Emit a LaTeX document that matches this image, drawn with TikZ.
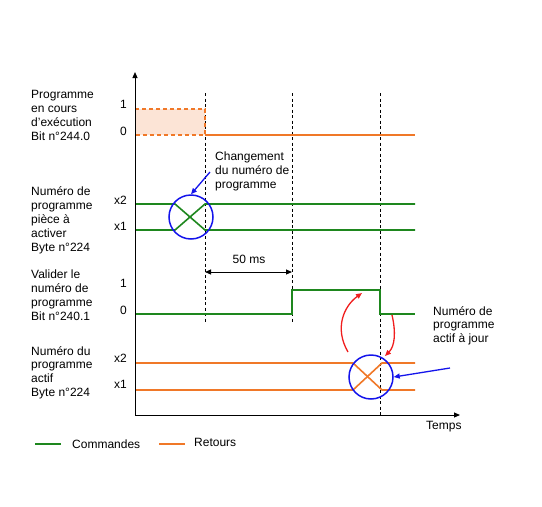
\documentclass[tikz,border=0pt]{standalone}
\usepackage{fontspec}
\setmainfont{Liberation Sans}
\usetikzlibrary{arrows.meta}
\definecolor{sig}{RGB}{30,135,30}
\definecolor{ret}{RGB}{240,120,40}
\definecolor{peach}{RGB}{252,228,214}
\definecolor{blu}{RGB}{20,20,235}
\definecolor{rd}{RGB}{240,30,30}
\begin{document}
\begin{tikzpicture}[x=1pt,y=-1pt,
  txt/.style={font=\fontsize{12}{13.9}\selectfont,align=left,inner sep=0pt,anchor=north west},
  lvl/.style={font=\fontsize{12}{13.9}\selectfont,inner sep=0pt,anchor=base east},
  cmd/.style={draw=sig,line width=1.6pt},
  rtn/.style={draw=ret,line width=1.6pt},
  guide/.style={draw=black,dashed,dash pattern=on 3pt off 2.5pt,line width=0.8pt},
  tip/.style={-{Triangle[length=6pt,width=5pt]}},
  ring/.style={circle,draw=blu,line width=1.5pt,minimum size=44pt,inner sep=0pt},
  note/.style={draw=blu,line width=1.3pt,-{Triangle[length=6pt,width=5pt]}},
  redarr/.style={draw=rd,line width=1.3pt,-{Triangle[length=6pt,width=5pt]}}]
\useasboundingbox (0,0) rectangle (542,507);

% guides
\draw[guide] (205,93) -- (205,323);
\draw[guide] (292,93) -- (292,323);
\draw[guide] (380,93) -- (380,415);

% signal 1
\fill[peach] (135,109) rectangle (205,135);
\draw[draw=ret,dashed,dash pattern=on 4pt off 3pt,line width=1.1pt] (135,109) -- (205,109) -- (205,135) -- (135,135);
\draw[rtn] (205,135) -- (415,135);

% signal 2
\draw[cmd] (135,204) -- (175,204) -- (205,230) -- (415,230);
\draw[cmd] (135,230) -- (175,230) -- (205,204) -- (415,204);

% signal 3
\draw[cmd] (135,314) -- (292,314) -- (292,290) -- (380,290) -- (380,314) -- (415,314);

% signal 4
\draw[rtn] (135,363) -- (353,363) -- (382,390) -- (415,390);
\draw[rtn] (135,390) -- (353,390) -- (382,363) -- (415,363);

% axes
\draw[line width=1pt,tip] (135,415) -- (135,72);
\draw[line width=1pt,tip] (135,415) -- (460,415);
\node[txt,anchor=base west] (temps) at (426,429) {Temps};

% labels
\node[txt] (l1) at (31,90.5) {Programme\\en cours\\d{\char"0027}exécution\\Bit n°244.0};
\node[txt] (l2) at (31,186.5) {Numéro de\\programme\\pièce à\\activer\\Byte n°224};
\node[txt] (l3) at (31,270) {Valider le\\numéro de\\programme\\Bit n°240.1};
\node[txt] (l4) at (31,346) {Numéro du\\programme\\actif\\Byte n°224};

\node[lvl] (a1) at (127,108) {1};
\node[lvl] (a0) at (127,135) {0};
\node[lvl] (b2) at (127,204) {x2};
\node[lvl] (b1) at (127,230) {x1};
\node[lvl] (c1) at (127,287) {1};
\node[lvl] (c0) at (127,314) {0};
\node[lvl] (d2) at (127,362) {x2};
\node[lvl] (d1) at (127,388) {x1};

% rings
\node[ring] (r1) at (191,217) {};
\node[ring] (r2) at (371,377) {};

% annotation 1
\node[txt] (t1) at (215,152) {Changement\\du numéro de\\programme};
\coordinate (n1a) at (210,172);
\draw[note] (n1a) -- (r1.north);

% 50 ms
\coordinate (m1) at (205,272);
\coordinate (m2) at (292,272);
\draw[line width=1pt,{Triangle[length=6pt,width=5pt]}-{Triangle[length=6pt,width=5pt]}] (m1) -- (m2);
\node[txt,anchor=base] (ms) at (249,263) {50 ms};

% annotation 2
\node[txt] (t2) at (433,306) {Numéro de\\programme\\actif à jour};
\coordinate (n2a) at (450,368);
\draw[note] (n2a) -- (r2.east);

% red arrows
\coordinate (ra) at (348,352);
\coordinate (rb) at (362,293);
\draw[redarr] (ra) .. controls (334,328) and (344,306) .. (rb);
\coordinate (rc) at (392,315);
\coordinate (rdd) at (385,356);
\draw[redarr] (rc) .. controls (396,332) and (395,346) .. (rdd);

% legend
\coordinate (g1) at (35,444);
\coordinate (g2) at (61,444);
\draw[cmd,line width=1.3pt] (g1) -- (g2);
\node[txt,anchor=base west] (lg1) at (72,448) {Commandes};
\coordinate (o1) at (159,444);
\coordinate (o2) at (185,444);
\draw[rtn,line width=1.3pt] (o1) -- (o2);
\node[txt,anchor=base west] (lg2) at (194,446) {Retours};
\end{tikzpicture}
\end{document}
